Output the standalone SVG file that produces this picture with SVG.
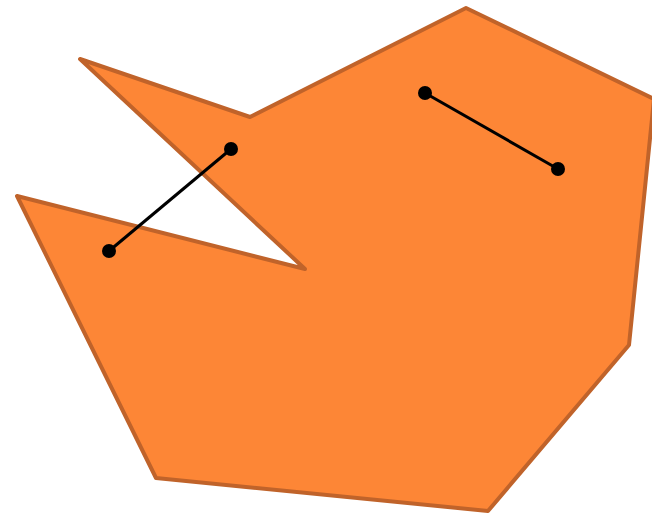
<svg xmlns="http://www.w3.org/2000/svg" width="652" height="514" viewBox="0 0 652 514">
<style>
.poly{fill:#fd8636;stroke:#c0632a;stroke-width:4;stroke-linejoin:round}
.seg{stroke:#000;stroke-width:3}
.pt{fill:#000}
</style>
<rect width="652" height="514" fill="#fff"/>
<polygon class="poly" points="80,59 250,117 466,8 654,99 629,345 488,511 156,478 17,196 305,269"/>
<g id="segment1">
<line class="seg" x1="109" y1="251" x2="231" y2="149"/>
<circle class="pt" cx="109" cy="251" r="7"/>
<circle class="pt" cx="231" cy="149" r="7"/>
</g>
<g id="segment2">
<line class="seg" x1="425" y1="93" x2="558" y2="169"/>
<circle class="pt" cx="425" cy="93" r="7"/>
<circle class="pt" cx="558" cy="169" r="7"/>
</g>
</svg>
